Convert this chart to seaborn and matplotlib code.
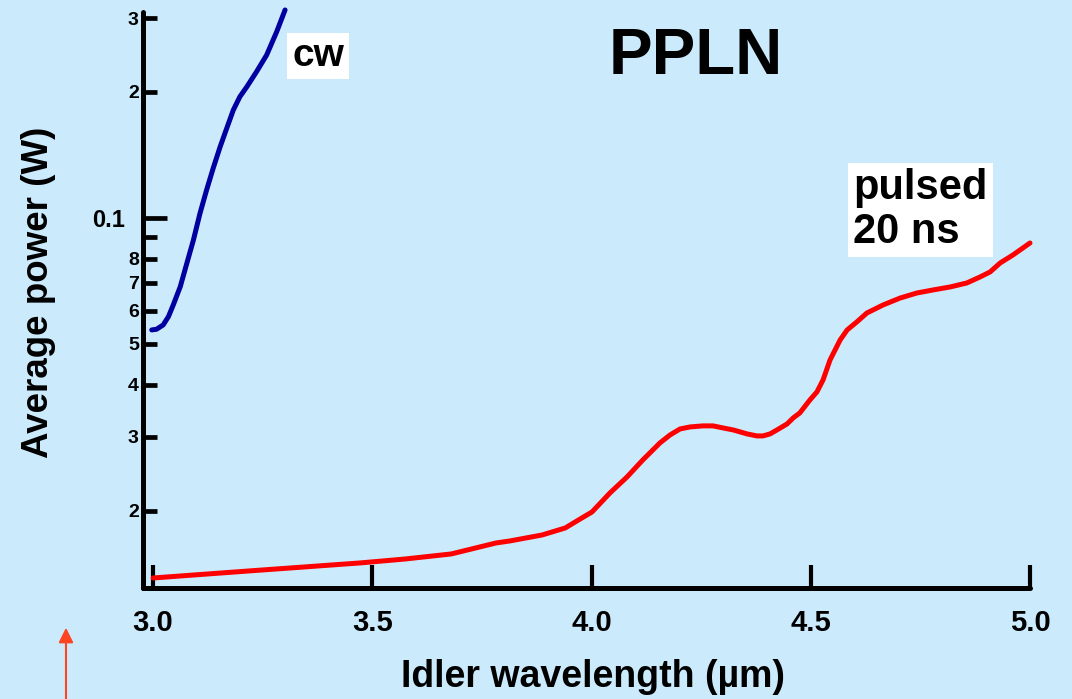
import numpy as np
import pandas as pd
import matplotlib
matplotlib.use("Agg")
import matplotlib.pyplot as plt
from matplotlib.ticker import FixedLocator, FixedFormatter
import seaborn as sns

# ---------------- data ----------------
cw_wavelength = [2.997, 3.008, 3.023, 3.035, 3.046, 3.062, 3.077, 3.092,
                 3.107, 3.122, 3.137, 3.153, 3.168, 3.183, 3.198, 3.214,
                 3.236, 3.259, 3.282, 3.301]
cw_power = [0.05401, 0.05422, 0.05552, 0.05811, 0.06197, 0.06853, 0.07794,
            0.08858, 0.1026, 0.1166, 0.1314, 0.1480, 0.1638, 0.1811, 0.1949,
            0.2059, 0.2236, 0.2451, 0.2787, 0.3140]

pulsed_wavelength = [3.000, 3.221, 3.472, 3.575, 3.680, 3.782, 3.814, 3.887,
                     3.940, 3.974, 4.001, 4.042, 4.081, 4.117, 4.156, 4.179,
                     4.202, 4.225, 4.254, 4.277, 4.300, 4.323, 4.355, 4.377,
                     4.391, 4.407, 4.423, 4.446, 4.460, 4.475, 4.498, 4.514,
                     4.528, 4.544, 4.567, 4.583, 4.605, 4.628, 4.665, 4.704,
                     4.742, 4.779, 4.818, 4.856, 4.886, 4.909, 4.932, 4.961,
                     5.000]
pulsed_power = [0.01380, 0.01435, 0.01499, 0.01532, 0.01575, 0.01673, 0.01692,
                0.01748, 0.01817, 0.01909, 0.01984, 0.02203, 0.02406, 0.02642,
                0.02901, 0.03031, 0.03133, 0.03168, 0.03186, 0.03186, 0.03150,
                0.03116, 0.03048, 0.03015, 0.03015, 0.03048, 0.03116, 0.03221,
                0.03329, 0.03421, 0.03674, 0.03840, 0.04102, 0.04580, 0.05112,
                0.05401, 0.05644, 0.05929, 0.06197, 0.06438, 0.06618, 0.06730,
                0.06842, 0.06994, 0.07228, 0.07431, 0.07807, 0.08156, 0.08715]

x_ticks = [3.0, 3.5, 4.0, 4.5, 5.0]
x_tick_labels = ["3.0", "3.5", "4.0", "4.5", "5.0"]
y_major_ticks = [0.1]
y_major_labels = ["0.1"]
y_minor_ticks = [0.02, 0.03, 0.04, 0.05, 0.06, 0.07, 0.08, 0.09, 0.2, 0.3]
y_minor_labels = ["2", "3", "4", "5", "6", "7", "8", "", "2", "3"]

df = pd.concat([
    pd.DataFrame({"wavelength": cw_wavelength, "power": cw_power, "mode": "cw"}),
    pd.DataFrame({"wavelength": pulsed_wavelength, "power": pulsed_power, "mode": "pulsed"}),
], ignore_index=True)

# ---------------- style ----------------
BG = "#CBEBFD"
sns.set_style("white")
plt.rcParams["font.family"] = ["Liberation Sans", "DejaVu Sans"]
plt.rcParams["font.weight"] = "bold"
plt.rcParams["text.color"] = "black"
plt.rcParams["axes.labelcolor"] = "black"
plt.rcParams["xtick.color"] = "black"
plt.rcParams["ytick.color"] = "black"

W, H = 1072, 699
fig = plt.figure(figsize=(W / 100, H / 100), dpi=100, facecolor=BG)
ax = fig.add_axes([143 / W, (H - 588) / H, (1030 - 143) / W, (588 - 12) / H])
ax.set_facecolor(BG)

sns.lineplot(data=df, x="wavelength", y="power", hue="mode",
             palette={"cw": "#0000A0", "pulsed": "#FF0000"},
             estimator=None, legend=False, linewidth=3.6, ax=ax,
             solid_capstyle="round", solid_joinstyle="round")
for ln in ax.lines:
    ln.set_clip_on(False)

ax.set_yscale("log")
ax.set_xlim(2.977, 5.0)
ax.set_ylim(0.01306, 0.3105)

# spines
for s in ["top", "right"]:
    ax.spines[s].set_visible(False)
for s in ["left", "bottom"]:
    ax.spines[s].set_linewidth(3.6)
    ax.spines[s].set_color("black")
    ax.spines[s].set_capstyle("round")

# x ticks
ax.xaxis.set_major_locator(FixedLocator(x_ticks))
ax.xaxis.set_major_formatter(FixedFormatter(x_tick_labels))
ax.tick_params(axis="x", which="major", direction="in", length=16.5, width=3,
               labelsize=21, pad=15, bottom=True, color="black",
               labelcolor="black")
for t in ax.get_xticklabels():
    t.set_fontweight("bold")

# y ticks
ax.yaxis.set_major_locator(FixedLocator(y_major_ticks))
ax.yaxis.set_major_formatter(FixedFormatter(y_major_labels))
ax.yaxis.set_minor_locator(FixedLocator(y_minor_ticks))
ax.yaxis.set_minor_formatter(FixedFormatter(y_minor_labels))
ax.tick_params(axis="y", which="major", direction="in", length=17, width=3.4,
               labelsize=17, pad=13, left=True, color="black",
               labelcolor="black")
ax.tick_params(axis="y", which="minor", direction="in", length=10, width=3.4,
               labelsize=14, pad=3, left=True, color="black",
               labelcolor="black")
for t in ax.get_yticklabels(which="both"):
    t.set_fontweight("bold")

# axis labels
ax.set_xlabel("Idler wavelength (µm)", fontsize=27, fontweight="bold",
              color="black")
ax.xaxis.label.set_va("center")
ax.xaxis.set_label_coords((593 - 143) / 887, (588 - 677) / 576)
ax.set_ylabel("Average power (W)", fontsize=26.5, fontweight="bold",
              color="black")
ax.yaxis.label.set_va("center")
ax.yaxis.set_label_coords((39 - 143) / 887, (588 - 292) / 576)

# titles / annotations
fig.text(696 / W, 1 - 57 / H, "PPLN", fontsize=47, fontweight="bold",
         ha="center", va="center", color="black")
fig.text(318 / W, 1 - 56 / H, "cw", fontsize=28, fontweight="bold",
         ha="center", va="center", color="black",
         bbox=dict(facecolor="white", edgecolor="none", pad=4))
fig.text(853 / W, 1 - 210 / H, "pulsed\n20 ns", fontsize=30, fontweight="bold",
         ha="left", va="center", linespacing=1.1, color="black",
         bbox=dict(facecolor="white", edgecolor="none", pad=4))

# small red arrow at bottom-left
ax.annotate("", xy=(66, H - 625), xycoords="figure pixels",
            xytext=(66, -5), textcoords="figure pixels",
            arrowprops=dict(arrowstyle="-|>", color="#FF4422", lw=1.5,
                            mutation_scale=22),
            annotation_clip=False)

fig.savefig("out.png", dpi=100, facecolor=BG)
